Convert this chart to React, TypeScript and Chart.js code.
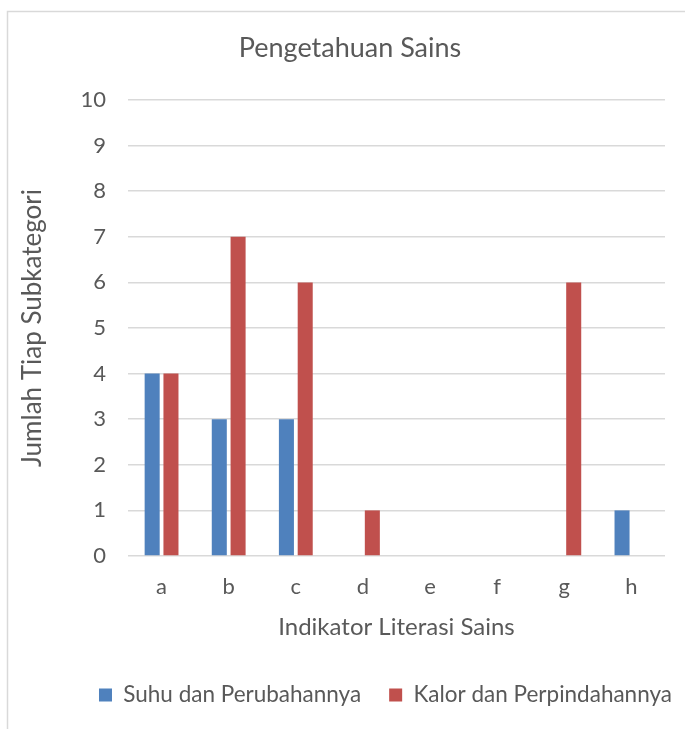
import React, { useEffect, useRef } from 'react';
import { Chart, registerables } from 'chart.js';

Chart.register(...registerables);

const categories = ['a', 'b', 'c', 'd', 'e', 'f', 'g', 'h'];
const suhuValues = [4, 3, 3, 0, 0, 0, 0, 1];
const kalorValues = [4, 7, 6, 1, 0, 0, 6, 0];
const seriesLabels = ['Suhu dan Perubahannya', 'Kalor dan Perpindahannya'];
const chartTitle = 'Pengetahuan Sains';
const xTitle = 'Indikator Literasi Sains';
const yTitle = 'Jumlah Tiap Subkategori';
const yMin = 0;
const yMax = 10;
const yStep = 1;

const FONT = 'Lato, "Open Sans", sans-serif';
const TEXT = '#595959';
const GRID = '#D9D9D9';
const BLUE = '#4F81BD';
const RED = '#C0504D';

const framePlugin = {
  id: 'frame',
  beforeDraw(chart: any) {
    const ctx = chart.ctx;
    ctx.save();
    ctx.fillStyle = '#ffffff';
    ctx.fillRect(0, 0, chart.width, chart.height);
    ctx.strokeStyle = GRID;
    ctx.lineWidth = 1.5;
    ctx.strokeRect(7.5, 11.5, chart.width + 20, chart.height + 20);
    ctx.restore();
  },
};

export default function App() {
  const ref = useRef<HTMLCanvasElement | null>(null);

  useEffect(() => {
    document.body.style.margin = '0';
    const canvas = ref.current;
    if (!canvas) return;
    const chart = new Chart(canvas, {
      type: 'bar',
      data: {
        labels: categories,
        datasets: [
          {
            label: seriesLabels[0],
            data: suhuValues,
            backgroundColor: BLUE,
            borderWidth: 0,
            categoryPercentage: 0.56,
            barPercentage: 0.8,
          },
          {
            label: seriesLabels[1],
            data: kalorValues,
            backgroundColor: RED,
            borderWidth: 0,
            categoryPercentage: 0.56,
            barPercentage: 0.8,
          },
        ],
      },
      options: {
        responsive: false,
        animation: false,
        layout: { padding: { left: 0, right: 0, top: 0, bottom: 12.75 } },
        plugins: {
          title: {
            display: true,
            text: chartTitle,
            color: TEXT,
            font: { family: FONT, size: 27, weight: 'normal' },
            padding: { top: 31.8, bottom: 35.8 },
          },
          legend: {
            position: 'bottom',
            align: 'end',
            labels: {
              boxWidth: 13,
              boxHeight: 13,
              padding: 28,
              color: TEXT,
              font: { family: FONT, size: 22.5 },
            },
          },
          tooltip: { enabled: false },
        },
        scales: {
          x: {
            grid: { display: false, drawTicks: false },
            border: { display: false },
            ticks: { padding: 17.8, color: TEXT, font: { family: FONT, size: 22 } },
            title: {
              display: true,
              text: xTitle,
              color: TEXT,
              font: { family: FONT, size: 24 },
              padding: { top: -5.4, bottom: 14.35 },
            },
          },
          y: {
            min: yMin,
            max: yMax,
            ticks: { stepSize: yStep, padding: 22, color: TEXT, font: { family: FONT, size: 22 } },
            grid: { color: GRID, lineWidth: 1.5, drawTicks: false },
            border: { display: false },
            title: {
              display: true,
              text: yTitle,
              color: TEXT,
              font: { family: FONT, size: 26 },
              padding: { top: 17.4, bottom: 0 },
            },
            afterFit: (s: any) => {
              s.width = 128;
            },
          },
          yRight: {
            position: 'right',
            display: true,
            grid: { display: false, drawTicks: false },
            border: { display: false },
            ticks: { display: false },
            afterFit: (s: any) => {
              s.width = 35;
            },
          },
        },
      } as any,
      plugins: [framePlugin],
    });
    return () => chart.destroy();
  }, []);

  return (
    <div style={{ width: 685, height: 729, overflow: 'hidden', background: '#fff' }}>
      <canvas ref={ref} width={700} height={729} style={{ width: 700, height: 729, display: 'block' }} />
    </div>
  );
}
